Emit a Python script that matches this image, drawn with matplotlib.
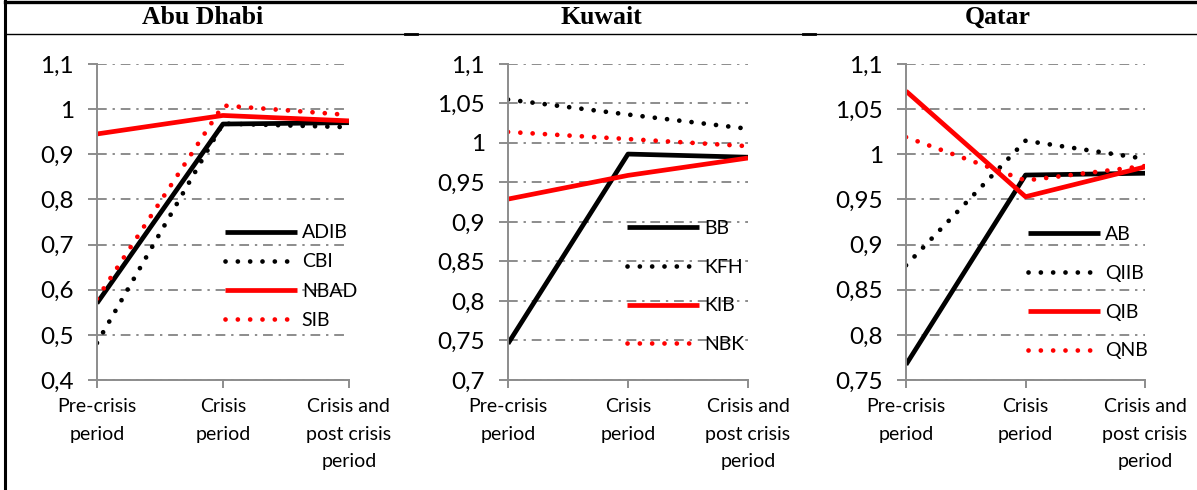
import matplotlib
matplotlib.use("Agg")
import matplotlib.pyplot as plt
from matplotlib.lines import Line2D
from matplotlib.ticker import FuncFormatter, MultipleLocator

# categories on the x axis
periods = ["Pre-crisis\nperiod", "Crisis\nperiod", "Crisis and\npost crisis\nperiod"]

# Abu Dhabi
abu_banks = ["ADIB", "CBI", "NBAD", "SIB"]
abu_vals = [
    [0.57, 0.967, 0.97],
    [0.482, 0.968, 0.96],
    [0.945, 0.986, 0.974],
    [0.58, 1.008, 0.987],
]

# Kuwait
kuw_banks = ["BB", "KFH", "KIB", "NBK"]
kuw_vals = [
    [0.746, 0.986, 0.982],
    [1.055, 1.036, 1.018],
    [0.929, 0.959, 0.981],
    [1.014, 1.005, 0.996],
]

# Qatar
qat_banks = ["AB", "QIIB", "QIB", "QNB"]
qat_vals = [
    [0.767, 0.977, 0.979],
    [0.877, 1.015, 0.995],
    [1.07, 0.953, 0.986],
    [1.019, 0.971, 0.987],
]

titles = ["Abu Dhabi", "Kuwait", "Qatar"]
ylims = [(0.4, 1.1, 0.1), (0.7, 1.1, 0.05), (0.75, 1.1, 0.05)]

FONT = "Lato"
FS = 14
GRID = "#8c8c8c"

# line styles for the four banks in each panel
styles = [
    dict(color="black", lw=3.4, ls="-", solid_capstyle="butt"),
    dict(color="black", lw=3.4, ls=(0, (0.01, 2.6)), dash_capstyle="round"),
    dict(color="#ff0000", lw=3.4, ls="-", solid_capstyle="butt"),
    dict(color="#ff0000", lw=3.4, ls=(0, (0.01, 2.6)), dash_capstyle="round"),
]

fig = plt.figure(figsize=(11.97, 4.90), dpi=100)

# axes placement (figure fractions)
boxes = [
    [0.0810, 0.2245, 0.2105, 0.6449],
    [0.4244, 0.2245, 0.2005, 0.6449],
    [0.7569, 0.2245, 0.1997, 0.6449],
]
leg_pos = [(0.508, 0.3275, 0.62), (0.496, 0.296, 1.12), (0.51, 0.276, 1.12)]
centers = [203, 601, 998]

panels = [(abu_banks, abu_vals), (kuw_banks, kuw_vals), (qat_banks, qat_vals)]

def comma_fmt(v, pos):
    return ("%g" % round(v, 3)).replace(".", ",")

for i, (banks, vals) in enumerate(panels):
    ax = fig.add_axes(boxes[i])
    for name, v, st in zip(banks, vals, styles):
        ax.plot(range(len(periods)), v, label=name, **st)
    lo, hi, step = ylims[i]
    ax.set_ylim(lo, hi)
    ax.set_xlim(0, 2)
    ax.yaxis.set_major_locator(MultipleLocator(step))
    ax.yaxis.set_major_formatter(FuncFormatter(comma_fmt))
    ax.set_xticks(range(len(periods)))
    ax.set_xticklabels(periods, fontfamily=FONT, fontsize=FS, linespacing=1.75)
    for lab in ax.get_yticklabels():
        lab.set_fontfamily(FONT)
        lab.set_fontsize(17.5)
    ax.grid(axis="y", color=GRID, lw=1.4, ls=(0, (5, 3, 1.2, 3)))
    ax.set_axisbelow(True)
    for s in ["top", "right"]:
        ax.spines[s].set_visible(False)
    for s in ["left", "bottom"]:
        ax.spines[s].set_color(GRID)
        ax.spines[s].set_linewidth(1.4)
    ax.tick_params(axis="y", direction="out", length=6.5, width=1.4, color=GRID, pad=10)
    ax.tick_params(axis="x", direction="out", length=6, width=1.4, color=GRID, pad=7)
    lx, ly, sp = leg_pos[i]
    ax.legend(loc="center left", bbox_to_anchor=(lx, ly), frameon=False,
              borderpad=0, borderaxespad=0, handlelength=3.7, handletextpad=0.25,
              labelspacing=sp, prop=dict(family=FONT, size=FS))
    fig.text(centers[i] / 1197, 1 - 17 / 490, titles[i], ha="center", va="center",
             fontfamily="Liberation Serif", fontweight="bold", fontsize=18.5)

# table borders
fig.add_artist(Line2D([5 / 1197, 1], [1 - 2 / 490] * 2, color="black", lw=2.4))
fig.add_artist(Line2D([5 / 1197, 1], [1 - 34 / 490] * 2, color="black", lw=1.0))
fig.add_artist(Line2D([5 / 1197] * 2, [0, 1 - 1 / 490], color="black", lw=2.2))
for x0 in [405, 803]:
    fig.add_artist(Line2D([x0 / 1197, (x0 + 12) / 1197], [1 - 34 / 490] * 2,
                          color="black", lw=2.0))

fig.savefig("out.png", dpi=100)
